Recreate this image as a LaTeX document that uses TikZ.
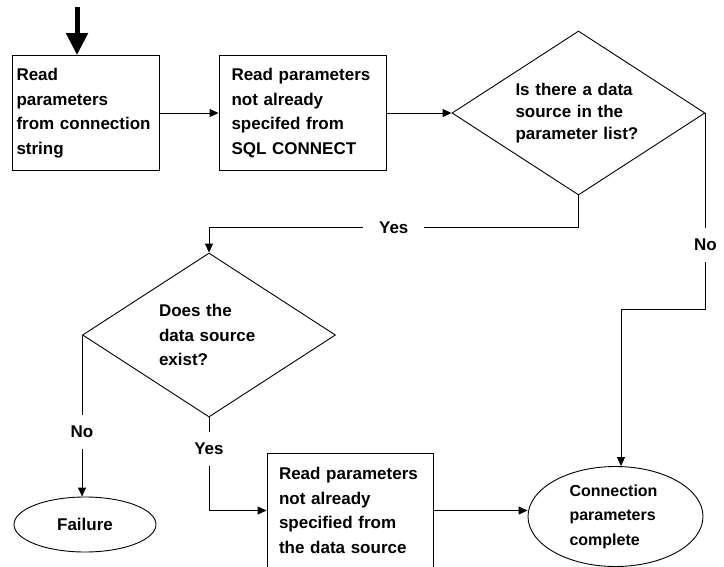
\documentclass[tikz,border=0pt]{standalone}
\usepackage{fontspec}
\setmainfont{Liberation Sans}
\usetikzlibrary{shapes.geometric,arrows.meta}

\tikzset{
    proc/.style={draw, rectangle, align=left, minimum height=115pt, inner sep=0pt},
    decision/.style={draw, diamond, aspect=1.54, align=left, minimum width=253pt, minimum height=164pt, inner sep=0pt},
    term/.style={draw, ellipse, align=left, inner sep=0pt},
    flow/.style={-{Triangle[length=9pt,width=8pt]}},
    lbl/.style={fill=white, inner xsep=16pt, inner ysep=11pt}
}

\begin{document}
\begin{tikzpicture}[x=1pt, y=-1pt, line width=0.9pt, font=\fontsize{17}{24.5}\selectfont\bfseries]
            \useasboundingbox (0,0) rectangle (724,566);

            \coordinate (start) at (77,7);
            \node[proc, minimum width=147pt, text width=138pt] (rdconn) at (85.5,113) {Read\\parameters\\from connection\\string};
            \node[proc, minimum width=167pt, text width=142pt] (rdsql) at (302.5,113) {Read parameters\\not already\\specifed from\\SQL CONNECT};
            \node[decision, text width=126pt, font=\fontsize{17}{22}\selectfont\bfseries] (hasds) at (578.5,113) {Is there a data\\source in the\\parameter list?};

            \node[decision, text width=100pt] (dsexists) at (209,335) {Does the\\data source\\exist?};
            \node[term, minimum width=142pt, minimum height=55pt] (fail) at (85,524.5) {Failure};
            \node[proc, minimum width=166pt, text width=142pt] (rdds) at (350,510.5) {Read parameters\\not already\\specified from\\the data source};
            \node[term, minimum width=175pt, minimum height=100pt, text width=92pt, font=\fontsize{16}{24.5}\selectfont\bfseries] (done) at (615.5,516.5) {Connection\\parameters\\complete};

            \coordinate (nobend) at (621,309);

            \draw[line width=5pt, -{Triangle[length=22pt,width=21pt]}] (start) -- (start |- rdconn.north);
            \draw[flow] (rdconn.east) -- (rdsql.west);
            \draw[flow] (rdsql.east) -- (hasds.west);
            \draw[flow] (hasds.south) -- ++(0,32) -| node[pos=0.25, lbl] {Yes} (dsexists.north);
            \draw[flow] (hasds.east) |- node[pos=0.337, lbl] {No} (nobend) -- (nobend |- done.north);
            \draw[flow] (dsexists.west) -- node[pos=0.6, lbl] {No} (dsexists.west |- fail.north);
            \draw[flow] (dsexists.south) |- node[pos=0.17, lbl] {Yes} (rdds.west);
            \draw[flow] (rdds.east) -- (rdds.east -| done.west);
        \end{tikzpicture}
\end{document}
